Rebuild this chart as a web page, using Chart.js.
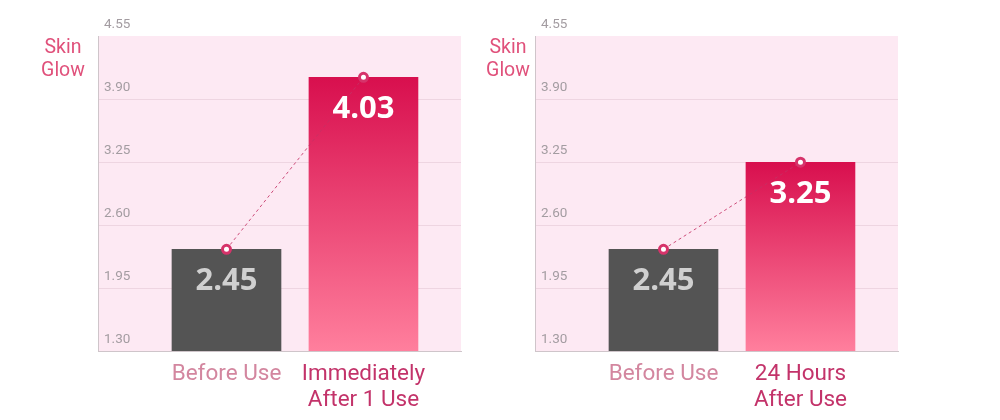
<!DOCTYPE html>
<html>
<head>
<meta charset="utf-8">
<script src="https://cdn.jsdelivr.net/npm/chart.js@4.4.1/dist/chart.umd.min.js"></script>
<style>
    html, body { margin: 0; padding: 0; background: #fff; }
    #wrap { position: relative; width: 1000px; height: 420px; }
    canvas { position: absolute; top: 0; }
</style>
</head>
<body>
<div id="wrap">
    <canvas id="glowNow" width="480" height="420" style="left:0"></canvas>
    <canvas id="glowLater" width="520" height="420" style="left:480px"></canvas>
</div>
<script>
// tick labels shown on the y axis
var yTicks = [1.30, 1.95, 2.60, 3.25, 3.90, 4.55];
var axisTitle = ['Skin', 'Glow'];

// left panel
var nowLabels = ['Before Use', ['Immediately', 'After 1 Use']];
var nowValues = [2.45, 4.03];

// right panel
var laterLabels = ['Before Use', ['24 Hours', 'After Use']];
var laterValues = [2.45, 3.25];

Chart.defaults.font.family = 'Roboto';

function makeChart(id, labels, values, padLeft, padRight, titleX) {

    //pink plot background
    var plotBg = {
        id: 'plotBg',
        beforeDraw: function (chart) {
            var a = chart.chartArea, c = chart.ctx;
            c.save();
            c.fillStyle = '#fde9f3';
            c.fillRect(a.left, a.top, a.right - a.left, a.bottom - a.top);
            c.restore();
        }
    };

    //"Skin Glow" title, top left
    var yTitle = {
        id: 'yTitle',
        afterDraw: function (chart) {
            var c = chart.ctx;
            c.save();
            c.fillStyle = '#e0517b';
            c.font = '19.5px Roboto';
            c.textAlign = 'center';
            c.textBaseline = 'middle';
            axisTitle.forEach(function (t, i) {
                c.fillText(t, titleX, 48 + i * 23);
            });
            c.restore();
        }
    };

    //values written inside the bars
    var valueLabels = {
        id: 'valueLabels',
        afterDatasetsDraw: function (chart) {
            var c = chart.ctx;
            var meta = chart.getDatasetMeta(1);
            c.save();
            c.font = 'bold 31px "Open Sans"';
            c.textAlign = 'center';
            c.textBaseline = 'middle';
            meta.data.forEach(function (bar, i) {
                c.fillStyle = i === 0 ? '#d0d0d0' : '#ffffff';
                c.fillText(values[i].toFixed(2), bar.x, bar.y + 32);
            });
            c.restore();
        }
    };

    var points = values.map(function (v, i) { return { x: i, y: v }; });

    return new Chart(document.getElementById(id), {
        type: 'bar',
        data: {
            datasets: [{
                type: 'line',
                data: points,
                yAxisID: 'yv',
                order: 0,
                borderColor: 'rgba(196, 48, 100, 0.85)',
                borderWidth: 1,
                borderDash: [3, 3],
                pointRadius: 4,
                pointBorderWidth: 3,
                pointBorderColor: '#d6336a',
                pointBackgroundColor: '#ffffff'
            }, {
                type: 'bar',
                data: points,
                yAxisID: 'yv',
                order: 1,
                barThickness: 109,
                backgroundColor: function (ctx) {
                    if (ctx.dataIndex === 0) return '#545454';
                    var chart = ctx.chart, area = chart.chartArea;
                    if (!area || !chart.scales.yv) return '#e8436d';
                    var top = chart.scales.yv.getPixelForValue(values[ctx.dataIndex]);
                    var g = chart.ctx.createLinearGradient(0, top, 0, area.bottom);
                    g.addColorStop(0, '#d80f4e');
                    g.addColorStop(1, '#ff7f9d');
                    return g;
                }
            }]
        },
        options: {
            responsive: false,
            animation: false,
            layout: { padding: { left: padLeft, right: padRight, top: 36, bottom: 0 } },
            plugins: { legend: { display: false }, tooltip: { enabled: false } },
            scales: {
                x: {
                    type: 'linear',
                    offset: false,
                    min: -0.938,
                    max: 1.712,
                    afterBuildTicks: function (s) {
                        s.ticks = labels.map(function (l, i) { return { value: i }; });
                    },
                    afterFit: function (s) { s.height = 69; },
                    grid: { display: false, offset: false },
                    border: { color: '#cfc5ca' },
                    ticks: {
                        autoSkip: false,
                        maxRotation: 0,
                        padding: 2,
                        font: { size: 22.5, lineHeight: 1.16 },
                        color: function (ctx) { return ctx.index === 0 ? '#d3869f' : '#c3336a'; },
                        callback: function (v) { return labels[v]; }
                    }
                },
                y: {
                    min: yTicks[0],
                    max: yTicks[yTicks.length - 1],
                    afterBuildTicks: function (s) {
                        s.ticks = yTicks.map(function (t) { return { value: t }; });
                    },
                    afterFit: function (s) { s.width = 0; },
                    grid: {
                        drawTicks: false,
                        color: function (ctx) {
                            return ctx.tick && ctx.tick.value === yTicks[yTicks.length - 1] ? 'rgba(0,0,0,0)' : '#eed5e1';
                        }
                    },
                    border: { color: '#cfc5ca' },
                    ticks: {
                        mirror: true,
                        padding: 6,
                        labelOffset: -11,
                        color: '#a39ca1',
                        font: { size: 13.5 },
                        callback: function (v) { return v.toFixed(2); }
                    }
                },
                //scale the bars are drawn on
                yv: {
                    display: false,
                    min: 1.515,
                    max: 4.41
                }
            }
        },
        plugins: [plotBg, yTitle, valueLabels]
    });
}

document.addEventListener("DOMContentLoaded", function () {
    makeChart('glowNow', nowLabels, nowValues, 98, 19, 63);
    makeChart('glowLater', laterLabels, laterValues, 55, 102, 28);
});
</script>
</body>
</html>
